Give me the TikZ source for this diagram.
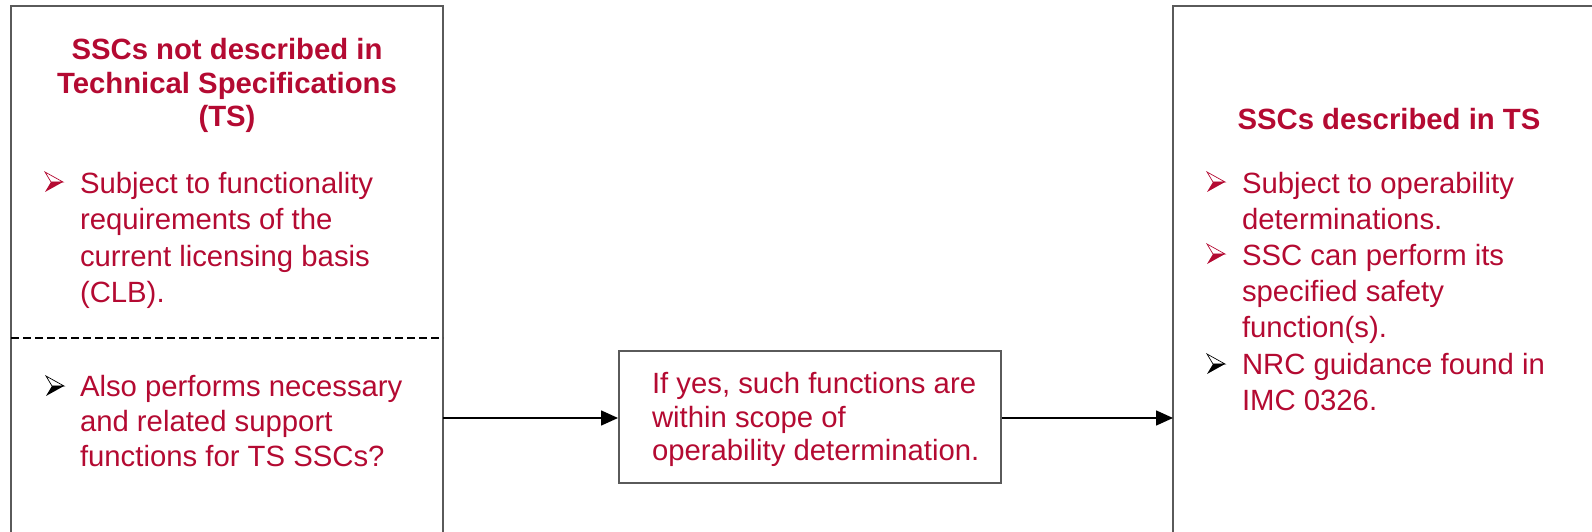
\documentclass[tikz,border=0pt]{standalone}
\usepackage{fontspec}
\setmainfont{Liberation Sans}
\usetikzlibrary{arrows.meta}
\definecolor{nrcred}{RGB}{180,10,50}
\definecolor{boxgray}{RGB}{90,90,90}
\newcommand\arrowbullet[3]{%
  \fill[#3] (#1+6,#2) -- (#1+18,#2) -- (#1,#2-10) -- cycle;
  \draw[#3, line width=0.7pt, line join=miter] (#1,#2+10) -- (#1+18,#2) -- (#1+6,#2) -- cycle;
}
\begin{document}
\begin{tikzpicture}[x=1pt,y=1pt,
  boxline/.style={draw=boxgray, line width=2pt},
  conn/.style={draw=black, line width=1.6pt, -{Triangle[length=17pt,width=15pt]}},
  txt/.style={inner sep=0pt, outer sep=0pt, text=nrcred, align=left, anchor=base west},
  ttl/.style={inner sep=0pt, outer sep=0pt, text=nrcred, align=center, anchor=base, font=\bfseries\fontsize{29.3}{33.5}\selectfont}]
\useasboundingbox (0,0) rectangle (1592,532);
% left box (open at bottom)
\draw[boxline] (11,-5) -- (11,526) -- (443,526) -- (443,-5);
% right box (open at bottom and right)
\draw[boxline] (1173,-5) -- (1173,526) -- (1600,526);
% dashed separator
\draw[black, line width=1.5pt, dash pattern=on 8pt off 4pt] (11,194) -- (443,194);
% titles (base anchor = baseline of last line)
\node[ttl] (lt) at (227,405) {SSCs not described in\\Technical Specifications\\(TS)};
\node[ttl] (rt) at (1389,402) {SSCs described in TS};
% left body
\node[txt, font=\fontsize{29.3}{36.5}\selectfont] (lb1) at (80,229) {Subject to functionality\\requirements of the\\current licensing basis\\(CLB).};
\node[txt, font=\fontsize{29.3}{35}\selectfont] (lb2) at (80,65) {Also performs necessary\\and related support\\functions for TS SSCs?};
% right body
\node[txt, font=\fontsize{29.3}{36.3}\selectfont] (rb1) at (1242,302) {Subject to operability\\determinations.};
\node[txt, font=\fontsize{29.3}{36.3}\selectfont] (rb2) at (1242,194) {SSC can perform its\\specified safety\\function(s).};
\node[txt, font=\fontsize{29.3}{36.3}\selectfont] (rb3) at (1242,121) {NRC guidance found in\\IMC 0326.};
% middle box
\node[boxline, minimum width=382pt, minimum height=132pt, inner sep=0pt] (mid) at (810,115) {};
\node[txt, font=\fontsize{29.3}{33.5}\selectfont] (mt) at (652,71) {If yes, such functions are\\within scope of\\operability determination.};
% bullets
\arrowbullet{45}{350}{nrcred}
\arrowbullet{46}{146}{black}
\arrowbullet{1207}{350}{nrcred}
\arrowbullet{1207}{278}{nrcred}
\arrowbullet{1207}{168}{black}
% connectors
\coordinate (lbE) at (443,114);
\coordinate (rbW) at (1173,114);
\draw[conn] (lbE) -- (mid.west |- lbE);
\draw[conn] (mid.east |- rbW) -- (rbW);
\end{tikzpicture}
\end{document}
